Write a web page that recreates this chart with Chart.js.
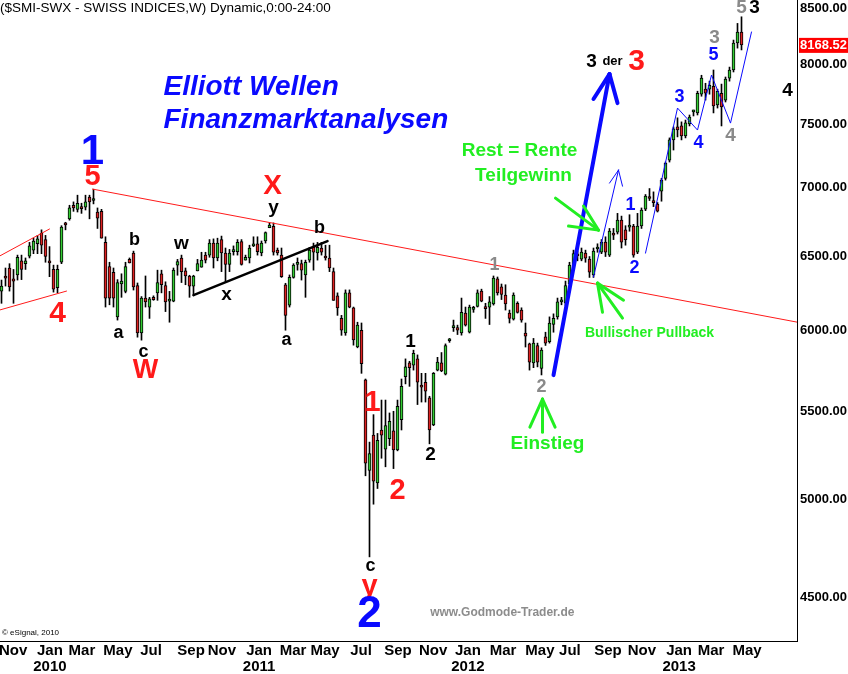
<!DOCTYPE html>
<html>
<head>
<meta charset="utf-8">
<script src="https://cdn.jsdelivr.net/npm/chart.js@4"></script>
<style>
  html, body { margin: 0; padding: 0; background: #fff; }
  canvas { display: block; }
</style>
</head>
<body>
<canvas id="myChart" width="848" height="674"></canvas>
<script>
// SMI weekly candles (index 0 = first week, Oct 2009)
const opens = [
  6262, 6360, 6420, 6345, 6372, 6470, 6450, 6502, 6545, 6590,
  6665, 6620, 6470, 6410, 6285, 6460, 6740, 6770, 6870, 6840,
  6860, 6855, 6930, 6905, 6820, 6825, 6600, 6430, 6390, 6090,
  6310, 6260, 6480, 6524, 6300, 5985, 6215, 6155, 6220, 6250,
  6380, 6300, 6195, 6195, 6440, 6490, 6400, 6365, 6295, 6400,
  6425, 6510, 6510, 6595, 6490, 6620, 6525, 6445, 6535, 6535,
  6605, 6475, 6490, 6575, 6590, 6525, 6610, 6705, 6715, 6545,
  6510, 6305, 6168, 6355, 6445, 6450, 6372, 6475, 6565, 6525,
  6560, 6500, 6490, 6395, 6230, 6080, 5985, 6250, 6150, 5895,
  6003, 5690, 5160, 5360, 5090, 5390, 5280, 5340, 5385, 5275,
  5450, 5710, 5795, 5780, 5820, 5655, 5675, 5580, 5420, 5750,
  5795, 5725, 5935, 6020, 6020, 5985, 6115, 5990, 6140, 6160,
  6262, 6155, 6155, 6175, 6345, 6290, 6235, 6115, 6075, 6180,
  6135, 5985, 5915, 5795, 5905, 5760, 5960, 5930, 6040, 6090,
  6190, 6180, 6310, 6440, 6515, 6482, 6524, 6482, 6372, 6553,
  6531, 6602, 6510, 6660, 6674, 6761, 6690, 6710, 6718, 6530,
  6718, 6841, 6930, 6900, 6879, 6975, 7072, 7213, 7372, 7476,
  7484, 7404, 7500, 7598, 7590, 7745, 7787, 7787, 7812, 7655,
  7753, 7696, 7880, 7950, 8185, 8283
];
const highs = [
  6337, 6420, 6450, 6410, 6510, 6510, 6490, 6600, 6630, 6650,
  6690, 6650, 6570, 6440, 6440, 6720, 6745, 6870, 6895, 6945,
  6885, 6945, 6945, 6990, 6850, 6840, 6640, 6460, 6420, 6340,
  6380, 6460, 6490, 6538, 6317, 6225, 6365, 6220, 6230, 6405,
  6405, 6325, 6260, 6420, 6480, 6510, 6420, 6370, 6370, 6480,
  6530, 6530, 6620, 6625, 6630, 6645, 6560, 6550, 6575, 6620,
  6620, 6510, 6580, 6640, 6640, 6610, 6675, 6740, 6740, 6560,
  6560, 6315, 6372, 6450, 6490, 6475, 6475, 6565, 6595, 6600,
  6600, 6580, 6580, 6420, 6250, 6100, 6270, 6270, 6155, 6055,
  6050, 5695, 5320, 5480, 5370, 5567, 5567, 5490, 5500, 5567,
  5695, 5820, 5805, 5875, 5845, 5730, 5730, 5590, 5735, 5830,
  5860, 5915, 5950, 6069, 6036, 6215, 6155, 6168, 6160, 6270,
  6275, 6180, 6225, 6365, 6358, 6310, 6305, 6135, 6250, 6190,
  6150, 6050, 5920, 5950, 5920, 5890, 5990, 6090, 6110, 6215,
  6220, 6330, 6460, 6545, 6540, 6560, 6545, 6500, 6560, 6590,
  6620, 6640, 6700, 6700, 6810, 6790, 6720, 6800, 6730, 6810,
  6850, 6950, 6995, 6970, 6890, 7072, 7198, 7388, 7476, 7550,
  7517, 7532, 7573, 7613, 7770, 7905, 7837, 7855, 7950, 7787,
  7830, 7890, 7975, 8211, 8360, 8420
];
const lows = [
  6180, 6296, 6262, 6180, 6337, 6340, 6410, 6490, 6520, 6520,
  6520, 6460, 6360, 6255, 6250, 6450, 6690, 6760, 6825, 6820,
  6810, 6835, 6770, 6880, 6700, 6630, 6155, 6170, 6155, 6069,
  6220, 6250, 6455, 6269, 5958, 5939, 6155, 6080, 6200, 6200,
  6250, 6125, 6055, 6190, 6370, 6320, 6305, 6220, 6230, 6400,
  6425, 6455, 6495, 6420, 6470, 6395, 6325, 6395, 6510, 6510,
  6440, 6475, 6455, 6570, 6510, 6505, 6595, 6705, 6510, 6510,
  6355, 6003, 6155, 6350, 6405, 6337, 6220, 6460, 6405, 6475,
  6510, 6475, 6395, 6200, 6100, 5970, 5970, 6150, 5907, 5890,
  5730, 5130, 4700, 4975, 5060, 5228, 5180, 5300, 5170, 5270,
  5390, 5665, 5650, 5750, 5540, 5555, 5555, 5310, 5415, 5745,
  5740, 5720, 5925, 5995, 5975, 5971, 6030, 5985, 6120, 6155,
  6190, 6080, 6040, 6168, 6235, 6205, 6135, 6050, 6069, 6115,
  6055, 5895, 5750, 5765, 5770, 5720, 5905, 5920, 5990, 6075,
  6170, 6165, 6300, 6430, 6470, 6470, 6460, 6355, 6355, 6530,
  6520, 6500, 6500, 6620, 6660, 6560, 6580, 6680, 6495, 6520,
  6700, 6830, 6905, 6860, 6820, 6900, 7059, 7198, 7292, 7396,
  7372, 7388, 7484, 7565, 7573, 7728, 7696, 7745, 7590, 7630,
  7484, 7680, 7855, 7933, 8140, 8124
];
const closes = [
  6296, 6350, 6290, 6330, 6495, 6410, 6470, 6575, 6610, 6625,
  6580, 6500, 6455, 6275, 6410, 6710, 6725, 6850, 6850, 6885,
  6845, 6895, 6895, 6915, 6775, 6630, 6215, 6215, 6215, 6320,
  6330, 6430, 6455, 6290, 5985, 6215, 6190, 6210, 6205, 6320,
  6305, 6190, 6205, 6405, 6465, 6395, 6365, 6295, 6365, 6450,
  6475, 6475, 6595, 6490, 6595, 6525, 6445, 6525, 6545, 6600,
  6445, 6495, 6560, 6585, 6535, 6595, 6670, 6725, 6530, 6525,
  6360, 6100, 6355, 6440, 6460, 6405, 6460, 6545, 6530, 6565,
  6530, 6490, 6420, 6200, 6150, 6003, 6250, 6155, 5940, 6036,
  5790, 5200, 5255, 5100, 5330, 5360, 5415, 5440, 5275, 5530,
  5650, 5770, 5765, 5855, 5675, 5645, 5620, 5390, 5730, 5800,
  5745, 5905, 5945, 6030, 6003, 6120, 6036, 6155, 6145, 6250,
  6195, 6145, 6190, 6350, 6250, 6240, 6175, 6080, 6235, 6120,
  6069, 5965, 5800, 5920, 5800, 5875, 5920, 6050, 6080, 6190,
  6200, 6300, 6440, 6520, 6505, 6531, 6489, 6392, 6538, 6560,
  6602, 6531, 6681, 6652, 6761, 6602, 6620, 6718, 6510, 6718,
  6834, 6938, 6920, 6890, 6826, 7059, 7190, 7372, 7460, 7452,
  7404, 7509, 7557, 7605, 7753, 7880, 7753, 7820, 7647, 7770,
  7639, 7872, 7950, 8185, 8283, 8168.52
];

// x axis labels (position in weeks from the first bar)
const monthPos = [2.9, 12.1, 20.1, 29.1, 37.4, 47.4, 55.1, 64.4, 72.9, 80.9, 89.9,
                  99.1, 107.9, 116.6, 125.4, 134.6, 142.1, 151.6, 160.1, 169.4, 177.4, 186.4];
const monthNames = ['Nov', 'Jan', 'Mar', 'May', 'Jul', 'Sep', 'Nov', 'Jan', 'Mar', 'May', 'Jul',
                    'Sep', 'Nov', 'Jan', 'Mar', 'May', 'Jul', 'Sep', 'Nov', 'Jan', 'Mar', 'May'];
const yearNames = ['', '2010', '', '', '', '', '', '2011', '', '', '',
                   '', '', '2012', '', '', '', '', '', '2013', '', ''];
const priceTicks = [4500, 5000, 5500, 6000, 6500, 7000, 7500, 8000, 8500];

const RED = '#ff1a1a', BLUE = '#0a0aff', GREEN = '#22ee22', GRAY = '#8a8a8a', BLACK = '#000';

// drawn lines, in (week, price)
const trendLines = [
  { pts: [[22.75, 6991], [199, 6055]], color: RED, width: 1 },
  { pts: [[-0.5, 6503], [12.0, 6696]], color: RED, width: 1 },
  { pts: [[-0.5, 6135], [16.25, 6262]], color: RED, width: 1 },
  { pts: [[48.0, 6235], [81.5, 6609]], color: BLACK, width: 2.5 },
  { pts: [[161.0, 6524], [169.0, 7630], [174.0, 7451], [177.5, 7907], [182.25, 7507], [187.5, 8283]], color: BLUE, width: 1 }
];
const arrows = [
  { tip: [152.0, 7915], ends: [[138.0, 5719], [148.0, 7705], [154.0, 7671]], color: BLUE, width: 4 },
  { tip: [154.25, 7136], ends: [[148.0, 6358], [152.0, 7036], [155.25, 7013]], color: BLUE, width: 1 },
  { tip: [135.25, 5573], ends: [[135.25, 5377], [132.1, 5407], [138.4, 5407]], color: GREEN, width: 3 },
  { tip: [149.0, 6316], ends: [[155.25, 6082], [150.25, 6121], [155.5, 6201]], color: GREEN, width: 3 },
  { tip: [149.25, 6688], ends: [[138.5, 6923], [141.75, 6717], [145.5, 6864]], color: GREEN, width: 3 }
];
// wave counts and notes: text, week, price, colour, size
const notes = [
  ['1', 22.75, 7276, BLUE, 42], ['5', 22.75, 7082, RED, 29], ['4', 14.0, 6114, RED, 30],
  ['a', 29.25, 5984, BLACK, 18], ['b', 33.25, 6617, BLACK, 18], ['c', 35.5, 5863, BLACK, 18],
  ['W', 36.0, 5750, RED, 27], ['w', 45.0, 6588, BLACK, 19], ['x', 56.25, 6235, BLACK, 19],
  ['y', 68.0, 6850, BLACK, 19], ['X', 67.75, 7013, RED, 28], ['b', 79.5, 6703, BLACK, 18],
  ['a', 71.25, 5939, BLACK, 18], ['1', 92.75, 5549, RED, 29], ['2', 99.0, 5045, RED, 29],
  ['c', 92.25, 4653, BLACK, 18], ['y', 92.0, 4548, RED, 29], ['2', 92.0, 4417, BLUE, 44],
  ['1', 102.25, 5926, BLACK, 19], ['2', 107.25, 5245, BLACK, 19],
  ['1', 123.25, 6441, GRAY, 18], ['2', 135.0, 5646, GRAY, 18],
  ['3', 147.5, 8018, BLACK, 19], ['der', 152.75, 8027, BLACK, 13], ['3', 158.75, 8018, RED, 30],
  ['Rest = Rente', 129.5, 7284, GREEN, 19], ['Teilgewinn', 130.5, 7090, GREEN, 19],
  ['Bullischer Pullback', 162.0, 5984, GREEN, 14], ['Einstieg', 136.5, 5313, GREEN, 19],
  ['1', 157.25, 6871, BLUE, 18], ['2', 158.25, 6420, BLUE, 18], ['3', 169.5, 7721, BLUE, 18],
  ['4', 174.25, 7347, BLUE, 18], ['5', 178.0, 8079, BLUE, 18],
  ['3', 178.25, 8229, GRAY, 19], ['5', 185.0, 8500, GRAY, 19], ['4', 182.25, 7402, GRAY, 19],
  ['3', 188.25, 8500, BLACK, 19], ['4', 196.5, 7772, BLACK, 19]
];

const FONT = "'Liberation Sans', Arial, sans-serif";

const overlay = {
  id: 'overlay',
  afterDatasetsDraw(chart) {
    const { ctx, chartArea: a, scales } = chart;
    const px = p => [scales.x.getPixelForValue(p[0]), scales.y.getPixelForValue(p[1])];
    ctx.save();
    ctx.beginPath();
    ctx.rect(a.left, a.top, a.right - a.left, a.bottom - a.top);
    ctx.clip();
    ctx.lineCap = 'round';
    trendLines.forEach(l => {
      ctx.strokeStyle = l.color;
      ctx.lineWidth = l.width;
      ctx.beginPath();
      l.pts.forEach((p, k) => {
        const [X, Y] = px(p);
        k ? ctx.lineTo(X, Y) : ctx.moveTo(X, Y);
      });
      ctx.stroke();
    });
    arrows.forEach(ar => {
      ctx.strokeStyle = ar.color;
      ctx.lineWidth = ar.width;
      const [tx, ty] = px(ar.tip);
      ar.ends.forEach(e => {
        const [X, Y] = px(e);
        ctx.beginPath();
        ctx.moveTo(X, Y);
        ctx.lineTo(tx, ty);
        ctx.stroke();
      });
    });
    // big headline
    ctx.fillStyle = BLUE;
    ctx.textAlign = 'left';
    ctx.textBaseline = 'middle';
    ctx.font = 'italic bold 28px ' + FONT;
    let [hx, hy] = px([40.5, 7805]);
    ctx.fillText('Elliott Wellen', hx, hy);
    [hx, hy] = px([40.5, 7532]);
    ctx.fillText('Finanzmarktanalysen', hx, hy);

    ctx.textAlign = 'center';
    notes.forEach(n => {
      const [X, Y] = px([n[1], n[2]]);
      ctx.fillStyle = n[3];
      ctx.font = 'bold ' + n[4] + 'px ' + FONT;
      ctx.fillText(n[0], X, Y);
    });
    // watermark and header
    ctx.fillStyle = '#8c8c8c';
    ctx.font = 'bold 12px ' + FONT;
    ctx.fillText('www.Godmode-Trader.de', scales.x.getPixelForValue(125.2), scales.y.getPixelForValue(4427));
    ctx.textAlign = 'left';
    ctx.fillStyle = '#000';
    ctx.font = '13.5px ' + FONT;
    ctx.fillText('($SMI-SWX - SWISS INDICES,W) Dynamic,0:00-24:00', a.left, a.top + 8);
    ctx.font = '8px ' + FONT;
    ctx.fillText('\u00a9 eSignal, 2010', a.left + 2, a.bottom - 8);
    ctx.restore();

    // last price tag on the axis
    const last = closes[closes.length - 1];
    const ly = scales.y.getPixelForValue(last);
    ctx.save();
    ctx.fillStyle = '#ff0000';
    ctx.fillRect(a.right + 2, ly - 7, chart.width - a.right - 2, 15);
    ctx.fillStyle = '#fff';
    ctx.font = 'bold 13px ' + FONT;
    ctx.textBaseline = 'middle';
    ctx.fillText(last.toFixed(2), a.right + 3, ly + 1);
    ctx.restore();
  }
};

const bodies = closes.map((c, i) => ({ x: i, y: [Math.min(opens[i], c), Math.max(opens[i], c)] }));
const wicks = closes.map((c, i) => ({ x: i, y: [lows[i], highs[i]] }));
const bodyColors = closes.map((c, i) => c >= opens[i] ? '#33cc33' : '#dd2222');

new Chart(document.getElementById('myChart'), {
  type: 'bar',
  data: {
    datasets: [
      {
        data: bodies,
        backgroundColor: bodyColors,
        borderColor: '#000',
        borderWidth: 1,
        borderSkipped: false,
        barThickness: 3,
        minBarLength: 2,
        grouped: false,
        order: 0
      },
      {
        data: wicks,
        backgroundColor: '#000',
        borderWidth: 0,
        barThickness: 1,
        grouped: false,
        order: 1
      }
    ]
  },
  options: {
    responsive: false,
    animation: false,
    layout: { padding: 0 },
    plugins: { legend: { display: false }, tooltip: { enabled: false } },
    scales: {
      x: {
        type: 'linear',
        offset: false,
        min: -0.375,
        max: 198.875,
        grid: { display: false, drawTicks: false },
        border: { display: true, color: '#000', width: 1 },
        afterBuildTicks: axis => { axis.ticks = monthPos.map(v => ({ value: v })); },
        afterFit: axis => {
          axis.height = 33;
          axis.paddingLeft = 0;
          axis.paddingRight = 0;
        },
        ticks: {
          autoSkip: false,
          maxRotation: 0,
          padding: 2,
          color: '#000',
          font: { family: "'Liberation Sans Narrow', 'Liberation Sans', Arial", size: 15, weight: 'bold', lineHeight: 1.07 },
          callback: (v, i) => yearNames[i] ? [monthNames[i], yearNames[i]] : monthNames[i]
        }
      },
      y: {
        type: 'logarithmic',
        position: 'right',
        min: 4292,
        max: 8574,
        grid: { display: false, drawTicks: false },
        border: { display: true, color: '#000', width: 1 },
        afterBuildTicks: axis => { axis.ticks = priceTicks.map(v => ({ value: v })); },
        afterFit: axis => {
          axis.width = 51;
          axis.paddingTop = 0;
          axis.paddingBottom = 0;
        },
        ticks: {
          padding: 3,
          color: '#000',
          font: { family: FONT, size: 13, weight: 'bold' },
          callback: v => v.toFixed(2)
        }
      }
    }
  },
  plugins: [overlay]
});
</script>
</body>
</html>
